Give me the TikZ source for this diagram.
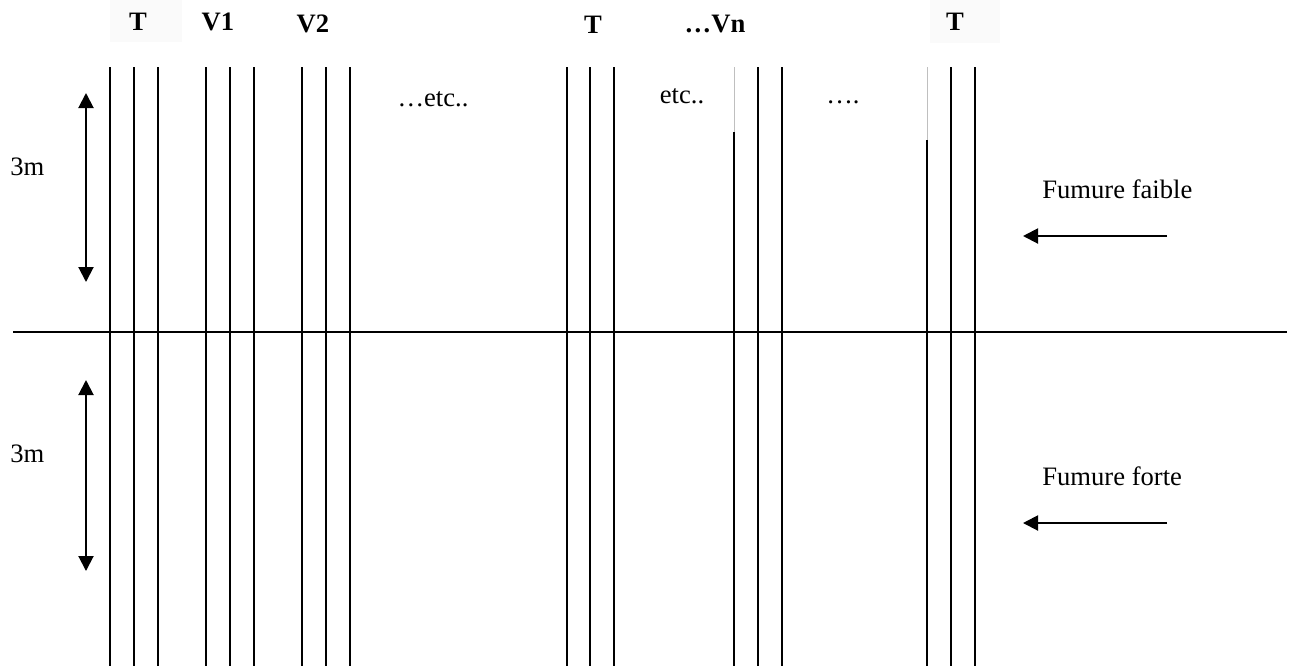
\documentclass[tikz,border=0pt]{standalone}
\usepackage{fontspec}
\setmainfont{Liberation Serif}
\usetikzlibrary{arrows.meta}

\begin{document}
\begin{tikzpicture}[x=0.5pt,y=-0.5pt,>={Triangle[length=7.5pt,width=7.5pt]},
  every node/.style={font=\fontsize{13.3}{16}\selectfont,inner sep=0pt},
  rang/.style={font=\fontsize{13.3}{16}\selectfont\bfseries},
  ligne/.style={line width=1pt}]
  \useasboundingbox (0,0) rectangle (1291,666);
  \fill[black!2] (110,0) rectangle (182,42);
  \fill[black!2] (930,0) rectangle (1000,43);
  % noms des rangs
  \node[rang,anchor=base] (t1) at (138,30) {T};
  \node[rang,anchor=base] (v1) at (218,30) {V1};
  \node[rang,anchor=base] (v2) at (313,32) {V2};
  \node[rang,anchor=base] (t2) at (593,33) {T};
  \node[rang,anchor=base] (vn) at (715,32) {\dots Vn};
  \node[rang,anchor=base] (t3) at (955,30) {T};
  \node[anchor=base] (etc1) at (433,106) {\dots etc..};
  \node[anchor=base] (etc2) at (682,103) {etc..};
  \node[anchor=base] (etc3) at (843,103) {\dots.};
  % lignes
  \foreach \x in {110,134,158,206,230,254,302,326,350,567,590,614,758,782,951,975}
    \draw[ligne] (\x,67) -- (\x,666);
  \draw[gray!50,thin] (734,67) -- (734,132);
  \draw[ligne] (734,132) -- (734,666);
  \draw[gray!50,thin] (927,67) -- (927,140);
  \draw[ligne] (927,140) -- (927,666);
  \draw[ligne] (13,332) -- (1287,332);
  % 3m
  \coordinate (h1) at (86,93);
  \coordinate (b1) at (86,282);
  \coordinate (h2) at (86,380);
  \coordinate (b2) at (86,571);
  \draw[ligne,<->] (h1) -- (b1);
  \draw[ligne,<->] (h2) -- (b2);
  \node[anchor=base west] (m1) at (10,175) {3m};
  \node[anchor=base west] (m2) at (10,462) {3m};
  % fumure
  \node[anchor=base west] (ff) at (1042,198) {Fumure faible};
  \node[anchor=base west] (fo) at (1042,485) {Fumure forte};
  \coordinate (a1) at (1167,236);
  \coordinate (a2) at (1023,236);
  \coordinate (a3) at (1167,523);
  \coordinate (a4) at (1023,523);
  \draw[ligne,->] (a1) -- (a2);
  \draw[ligne,->] (a3) -- (a4);
\end{tikzpicture}
\end{document}
